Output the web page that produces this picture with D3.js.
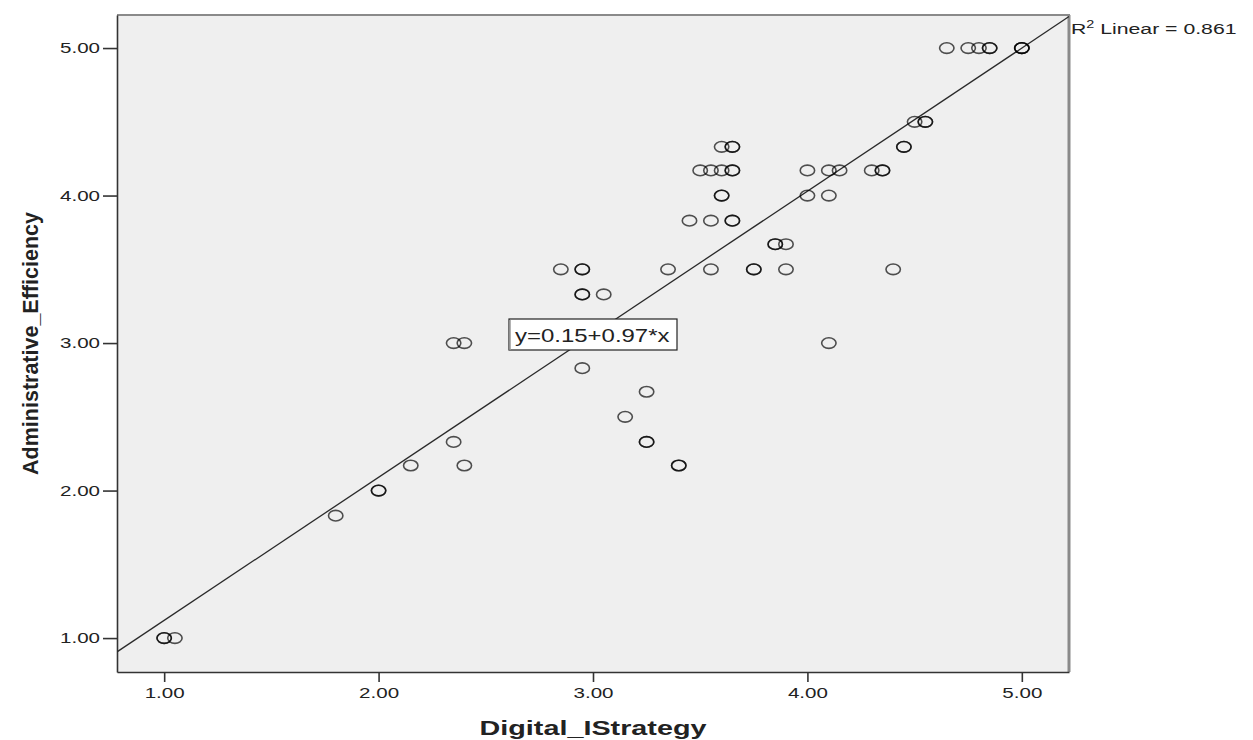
<!DOCTYPE html>
<html>
<head>
<meta charset="utf-8">
<script src="https://cdn.jsdelivr.net/npm/d3@7"></script>
<style>
  body { margin: 0; background: #fff; }
  text { font-family: "Liberation Sans", Arial, sans-serif; fill: #222; }
</style>
</head>
<body>
<svg id="scatter" width="1253" height="740"></svg>
<script>
// Digital_IStrategy (x) vs Administrative_Efficiency (y), one entry per case
var xStrategy = [
  4.65, 4.75, 4.80, 4.85, 4.85, 5.00, 5.00, 5.00,
  4.50, 4.55, 4.55,
  4.45, 4.45, 3.60, 3.65, 3.65,
  3.50, 3.55, 3.60, 3.65, 3.65, 4.00, 4.10, 4.15, 4.30, 4.35, 4.35,
  3.60, 3.60, 4.00, 4.10,
  3.45, 3.55, 3.65, 3.65,
  3.85, 3.85, 3.90,
  2.85, 2.95, 2.95, 3.35, 3.55, 3.75, 3.75, 3.90, 4.40,
  2.95, 2.95, 3.05,
  2.35, 2.40, 4.10,
  2.95,
  3.25,
  3.15,
  2.35, 3.25, 3.25,
  2.15, 2.40, 3.40, 3.40,
  2.00, 2.00,
  1.80,
  1.00, 1.00, 1.05
];
var yEfficiency = [
  5.00, 5.00, 5.00, 5.00, 5.00, 5.00, 5.00, 5.00,
  4.50, 4.50, 4.50,
  4.33, 4.33, 4.33, 4.33, 4.33,
  4.17, 4.17, 4.17, 4.17, 4.17, 4.17, 4.17, 4.17, 4.17, 4.17, 4.17,
  4.00, 4.00, 4.00, 4.00,
  3.83, 3.83, 3.83, 3.83,
  3.67, 3.67, 3.67,
  3.50, 3.50, 3.50, 3.50, 3.50, 3.50, 3.50, 3.50, 3.50,
  3.33, 3.33, 3.33,
  3.00, 3.00, 3.00,
  2.83,
  2.67,
  2.50,
  2.33, 2.33, 2.33,
  2.17, 2.17, 2.17, 2.17,
  2.00, 2.00,
  1.83,
  1.00, 1.00, 1.00
];
var xTicks = [1, 2, 3, 4, 5];
var yTicks = [1, 2, 3, 4, 5];
var fitIntercept = 0.15, fitSlope = 0.97, rSquared = 0.861;
var xTitle = "Digital_IStrategy";
var yTitle = "Administrative_Efficiency";

var svg = d3.select("#scatter"),
    plotL = 117, plotR = 1069, plotT = 15, plotB = 672,
    sx = 1.37; // the picture is stretched sideways, text too

var x = d3.scaleLinear().domain([0.78, 5.22]).range([plotL, plotR]);
var y = d3.scaleLinear().domain([0.77, 5.224]).range([plotB, plotT]);

svg.append("rect").attr("width", 1253).attr("height", 740).attr("fill", "#fff");
svg.append("rect").attr("x", plotL).attr("y", plotT)
  .attr("width", plotR - plotL).attr("height", plotB - plotT).attr("fill", "#efefef");

svg.append("clipPath").attr("id", "plotclip").append("rect")
  .attr("x", plotL).attr("y", plotT).attr("width", plotR - plotL).attr("height", plotB - plotT);

// gray frame on top and right
svg.append("line").attr("x1", plotL).attr("x2", plotR + 1).attr("y1", plotT).attr("y2", plotT)
  .attr("stroke", "#8a8a8a").attr("stroke-width", 2);
svg.append("line").attr("x1", plotR).attr("x2", plotR).attr("y1", plotT).attr("y2", plotB)
  .attr("stroke", "#8a8a8a").attr("stroke-width", 3);

// axes
var yAxis = d3.axisLeft(y).tickValues(yTicks).tickFormat(d3.format(".2f"))
  .tickSize(14).tickSizeOuter(0).tickPadding(3);
var xAxis = d3.axisBottom(x).tickValues(xTicks).tickFormat(d3.format(".2f"))
  .tickSize(10).tickSizeOuter(0).tickPadding(5);

var gy = svg.append("g").attr("transform", "translate(" + plotL + ",0)").call(yAxis);
var gx = svg.append("g").attr("transform", "translate(0," + plotB + ")").call(xAxis);

[gx, gy].forEach(function (g) {
  g.select(".domain").attr("stroke", "#333").attr("stroke-width", 1.6);
  g.selectAll(".tick line").attr("stroke", "#333").attr("stroke-width", 1.6);
  g.selectAll(".tick text").attr("font-size", 15).attr("fill", "#222")
    .attr("font-family", "'Liberation Sans', Arial, sans-serif");
});
gy.selectAll(".tick text").attr("x", -17 / sx).attr("transform", "scale(" + sx + ",1)");
gx.selectAll(".tick text").attr("transform", "scale(" + sx + ",1)");

// regression line
svg.append("line").attr("clip-path", "url(#plotclip)")
  .attr("x1", x(0.78)).attr("y1", y(fitIntercept + fitSlope * 0.78))
  .attr("x2", x(5.22)).attr("y2", y(fitIntercept + fitSlope * 5.22))
  .attr("stroke", "#2a2a2a").attr("stroke-width", 1.3);

// points
svg.append("g").selectAll("ellipse").data(xStrategy).enter().append("ellipse")
  .attr("cx", function (d) { return x(d); })
  .attr("cy", function (d, i) { return y(yEfficiency[i]); })
  .attr("rx", 7.2).attr("ry", 5.3)
  .attr("fill", "none").attr("stroke", "#000").attr("stroke-opacity", 0.68)
  .attr("stroke-width", 1.6);

// equation box
var eq = svg.append("g");
eq.append("rect").attr("x", 509).attr("y", 319).attr("width", 168).attr("height", 31)
  .attr("fill", "#fff").attr("stroke", "#222").attr("stroke-width", 1.2);
eq.append("line").attr("x1", 510).attr("x2", 510).attr("y1", 320).attr("y2", 350)
  .attr("stroke", "#999").attr("stroke-width", 1.5);
eq.append("g").attr("transform", "translate(515,342) scale(" + sx + ",1)")
  .append("text").attr("font-size", 17.5).attr("fill", "#222")
  .text("y=" + fitIntercept.toFixed(2) + "+" + fitSlope.toFixed(2) + "*x");

// R squared
var r2 = svg.append("g").attr("transform", "translate(1071,34) scale(" + sx + ",1)")
  .append("text").attr("font-size", 15.5).attr("fill", "#222");
r2.append("tspan").text("R");
r2.append("tspan").attr("font-size", 10.5).attr("dy", -6).text("2");
r2.append("tspan").attr("dy", 6).text(" Linear = " + rSquared.toFixed(3));

// axis titles
svg.append("g").attr("transform", "translate(" + (plotL + plotR) / 2 + ",735) scale(" + sx + ",1)")
  .append("text").attr("text-anchor", "middle").attr("font-size", 21)
  .attr("font-weight", "bold").attr("fill", "#111").text(xTitle);

svg.append("text").attr("transform", "translate(37.5," + (plotT + plotB) / 2 + ") rotate(-90)")
  .attr("text-anchor", "middle").attr("font-size", 21.5)
  .attr("font-weight", "bold").attr("fill", "#111").text(yTitle);
</script>
</body>
</html>
